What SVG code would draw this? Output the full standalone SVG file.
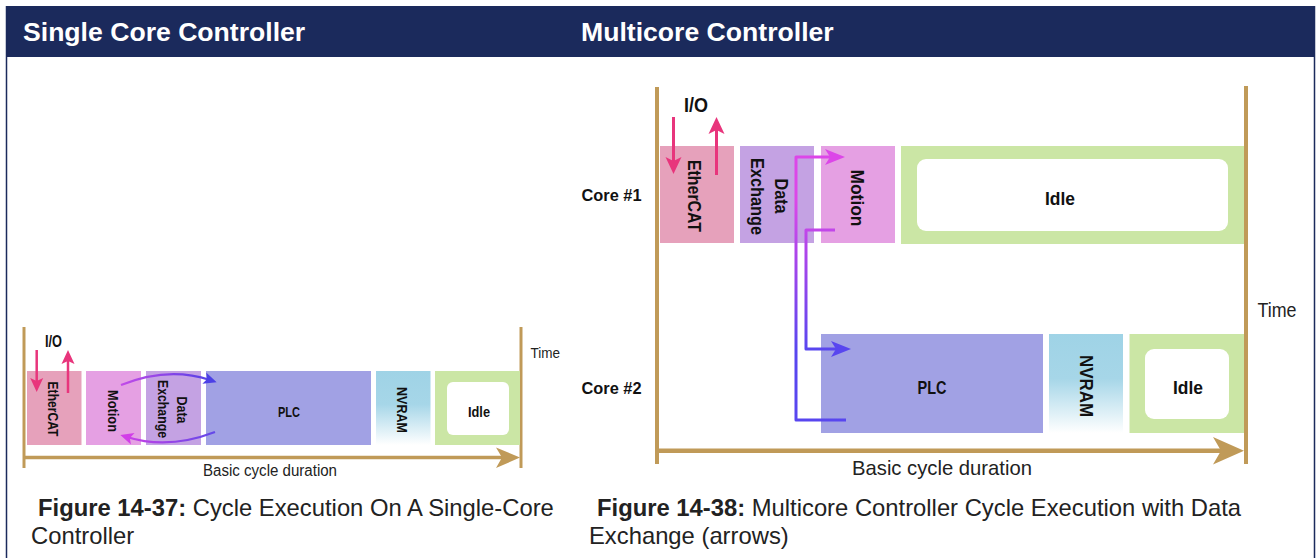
<svg xmlns="http://www.w3.org/2000/svg" width="1316" height="558" viewBox="0 0 1316 558">
<style>
.hdr{font-family:"Liberation Sans",Arial,sans-serif;font-weight:bold;font-size:26.6px;fill:#ffffff}
.cap{font-family:"Liberation Sans",Arial,sans-serif;font-size:23.8px;fill:#222222}
.capb{font-weight:bold}
.lbl{font-family:"Liberation Sans",Arial,sans-serif;font-weight:bold;fill:#111111;text-anchor:middle}
.s15{font-size:15.5px}
.s19{font-size:19px}
.ax{font-family:"Liberation Sans",Arial,sans-serif;fill:#222222}
.core{font-family:"Liberation Sans",Arial,sans-serif;font-weight:bold;font-size:17px;fill:#111111}
.axis{stroke:#c09a58;fill:none}
.axhead{fill:#c09a58}
.eth{fill:#e6a1bb}
.mot{fill:#e5a0e3}
.dex{fill:#c4a2e3}
.plc{fill:#a1a1e4}
.nvr{fill:url(#gNv)}
.idl{fill:#cbe6a5}
.win{fill:#ffffff}
.pink{stroke:#e8357c;fill:none}
</style>
<defs>
<linearGradient id="gNv" x1="0" y1="0" x2="0" y2="1">
<stop offset="0" stop-color="#9fd3e6"/>
<stop offset="0.45" stop-color="#a6d6e8"/>
<stop offset="1" stop-color="#ffffff"/>
</linearGradient>
<linearGradient id="gTop" gradientUnits="userSpaceOnUse" x1="121" y1="0" x2="216" y2="0">
<stop offset="0" stop-color="#c24ae8"/>
<stop offset="1" stop-color="#4c40e6"/>
</linearGradient>
<linearGradient id="gBot" gradientUnits="userSpaceOnUse" x1="215" y1="0" x2="121" y2="0">
<stop offset="0" stop-color="#6248e8"/>
<stop offset="1" stop-color="#d040e6"/>
</linearGradient>
<linearGradient id="gCon" gradientUnits="userSpaceOnUse" x1="0" y1="200" x2="0" y2="350">
<stop offset="0" stop-color="#dc46e8"/>
<stop offset="1" stop-color="#5846ef"/>
</linearGradient>
<marker id="mPinkS" markerUnits="userSpaceOnUse" markerWidth="16" markerHeight="14" viewBox="-15 -7 16 14" refX="-7" refY="0" orient="auto">
<path d="M0,0 L-14,-6.5 L-11,0 L-14,6.5 Z" fill="#e8357c"/>
</marker>
<marker id="mPinkL" markerUnits="userSpaceOnUse" markerWidth="19" markerHeight="18" viewBox="-18 -9 19 18" refX="-8" refY="0" orient="auto">
<path d="M0,0 L-17,-8 L-13,0 L-17,8 Z" fill="#e8357c"/>
</marker>
<marker id="mBlueS" markerUnits="userSpaceOnUse" markerWidth="16" markerHeight="14" viewBox="-15 -7 16 14" refX="-7" refY="0" orient="auto">
<path d="M0,0 L-13,-6 L-10,0 L-13,6 Z" fill="#4c40e6"/>
</marker>
<marker id="mMagS" markerUnits="userSpaceOnUse" markerWidth="16" markerHeight="14" viewBox="-15 -7 16 14" refX="-7" refY="0" orient="auto">
<path d="M0,0 L-13,-6 L-10,0 L-13,6 Z" fill="#d23ee8"/>
</marker>
<marker id="mMagL" markerUnits="userSpaceOnUse" markerWidth="22" markerHeight="18" viewBox="-21 -9 22 18" refX="-9" refY="0" orient="auto">
<path d="M0,0 L-20,-8 L-15,0 L-20,8 Z" fill="#dc46e8"/>
</marker>
<marker id="mBlueL" markerUnits="userSpaceOnUse" markerWidth="22" markerHeight="18" viewBox="-21 -9 22 18" refX="-9" refY="0" orient="auto">
<path d="M0,0 L-20,-8 L-15,0 L-20,8 Z" fill="#5846ef"/>
</marker>
</defs>

<!-- frame -->
<g id="frame">
<rect x="6" y="6" width="1309" height="51" fill="#1b2a5c"/>
<line x1="6.5" y1="6" x2="6.5" y2="558" stroke="#1b2a5c" stroke-width="1.5"/>
<line x1="1314.5" y1="6" x2="1314.5" y2="558" stroke="#1b2a5c" stroke-width="1.5"/>
<text class="hdr" x="23" y="41">Single Core Controller</text>
<text class="hdr" x="581" y="41">Multicore Controller</text>
</g>

<!-- ===== Single core diagram ===== -->
<g id="sc-axes">
<line class="axis" x1="24" y1="327" x2="24" y2="468" stroke-width="3"/>
<line class="axis" x1="521" y1="327" x2="521" y2="468" stroke-width="3"/>
<line class="axis" x1="24" y1="457.5" x2="505" y2="457.5" stroke-width="3.5"/>
<path class="axhead" d="M520,457.5 L496,447.5 L502,457.5 L496,468 Z"/>
<text class="ax" x="530.5" y="358" font-size="15" textLength="29.5" lengthAdjust="spacingAndGlyphs">Time</text>
<text class="ax" x="203" y="475.5" font-size="16" textLength="134" lengthAdjust="spacingAndGlyphs">Basic cycle duration</text>
</g>

<g id="sc-ethercat">
<rect class="eth" x="27" y="371" width="54.5" height="74"/>
<text class="lbl s15" transform="translate(53.5 409) rotate(90)" y="5.6" textLength="55" lengthAdjust="spacingAndGlyphs">EtherCAT</text>
</g>
<g id="sc-motion">
<rect class="mot" x="86" y="371" width="55" height="74"/>
<text class="lbl s15" transform="translate(114 411) rotate(90)" y="5.6" textLength="42" lengthAdjust="spacingAndGlyphs">Motion</text>
</g>
<g id="sc-dataexchange">
<rect class="dex" x="146" y="371" width="55" height="74"/>
<text class="lbl s15" transform="translate(183 410) rotate(90)" y="5.6" textLength="27" lengthAdjust="spacingAndGlyphs">Data</text>
<text class="lbl s15" transform="translate(163.5 409) rotate(90)" y="5.6" textLength="58" lengthAdjust="spacingAndGlyphs">Exchange</text>
</g>
<g id="sc-plc">
<rect class="plc" x="206" y="371" width="165" height="74"/>
<text class="lbl s15" x="289" y="417" textLength="22" lengthAdjust="spacingAndGlyphs">PLC</text>
</g>
<g id="sc-nvram">
<rect class="nvr" x="376" y="371" width="54.5" height="74"/>
<text class="lbl s15" transform="translate(402.5 410) rotate(90)" y="5.6" textLength="46" lengthAdjust="spacingAndGlyphs">NVRAM</text>
</g>
<g id="sc-idle">
<rect class="idl" x="435" y="371" width="85" height="74"/>
<rect class="win" x="447" y="382" width="62" height="53" rx="6"/>
<text class="lbl s15" x="479" y="417" textLength="22" lengthAdjust="spacingAndGlyphs">Idle</text>
</g>
<g id="sc-io">
<text class="lbl" x="53.5" y="346.5" font-size="16" textLength="17" lengthAdjust="spacingAndGlyphs">I/O</text>
</g>

<g id="sc-connectors">
<line class="pink" x1="36.7" y1="350" x2="36.7" y2="385" stroke-width="2.5" marker-end="url(#mPinkS)"/>
<line class="pink" x1="68" y1="393" x2="68" y2="357" stroke-width="2.5" marker-end="url(#mPinkS)"/>
<path d="M121,385 Q168,366 210,380" fill="none" stroke="url(#gTop)" stroke-width="2.2" marker-end="url(#mBlueS)"/>
<path d="M215,432 Q168,450 127,437" fill="none" stroke="url(#gBot)" stroke-width="2.2" marker-end="url(#mMagS)"/>
</g>

<!-- ===== Multicore diagram ===== -->
<g id="mc-axes">
<line class="axis" x1="657" y1="87" x2="657" y2="464" stroke-width="4"/>
<line class="axis" x1="1246" y1="86" x2="1246" y2="464" stroke-width="4"/>
<line class="axis" x1="657" y1="450.8" x2="1224" y2="450.8" stroke-width="4.5"/>
<path class="axhead" d="M1244,450.8 L1213,437 L1221,450.8 L1213,464.5 Z"/>
<text class="ax" x="1257.5" y="317" font-size="20" textLength="39" lengthAdjust="spacingAndGlyphs">Time</text>
<text class="ax" x="852" y="475" font-size="21" textLength="180" lengthAdjust="spacingAndGlyphs">Basic cycle duration</text>
<text class="core" x="581.5" y="200.5" textLength="60" lengthAdjust="spacingAndGlyphs">Core #1</text>
<text class="core" x="581.5" y="394" textLength="60" lengthAdjust="spacingAndGlyphs">Core #2</text>
</g>

<g id="mc-ethercat">
<rect class="eth" x="660" y="146" width="74" height="97"/>
<text class="lbl s19" transform="translate(695 196) rotate(90)" y="6.8" textLength="72" lengthAdjust="spacingAndGlyphs">EtherCAT</text>
</g>
<g id="mc-dataexchange">
<rect class="dex" x="740" y="146" width="74" height="97"/>
<text class="lbl s19" transform="translate(781.5 196) rotate(90)" y="6.8" textLength="35" lengthAdjust="spacingAndGlyphs">Data</text>
<text class="lbl s19" transform="translate(757.5 196.5) rotate(90)" y="6.8" textLength="77" lengthAdjust="spacingAndGlyphs">Exchange</text>
</g>
<g id="mc-motion">
<rect class="mot" x="821" y="146" width="74" height="97"/>
<text class="lbl s19" transform="translate(858 198) rotate(90)" y="6.8" textLength="57" lengthAdjust="spacingAndGlyphs">Motion</text>
</g>
<g id="mc-idle1">
<rect class="idl" x="901" y="146" width="343" height="98"/>
<rect class="win" x="917" y="159" width="311" height="72" rx="9"/>
<text class="lbl s19" x="1060" y="205" textLength="30" lengthAdjust="spacingAndGlyphs">Idle</text>
</g>
<g id="mc-io">
<text class="lbl" x="696" y="112" font-size="21" textLength="24" lengthAdjust="spacingAndGlyphs">I/O</text>
</g>
<g id="mc-plc">
<rect class="plc" x="821" y="334" width="222" height="99"/>
<text class="lbl s19" x="932" y="394" textLength="29" lengthAdjust="spacingAndGlyphs">PLC</text>
</g>
<g id="mc-nvram">
<rect class="nvr" x="1049" y="334" width="74" height="99"/>
<text class="lbl s19" transform="translate(1086.5 386) rotate(90)" y="6.8" textLength="62" lengthAdjust="spacingAndGlyphs">NVRAM</text>
</g>
<g id="mc-idle2">
<rect class="idl" x="1129.5" y="334" width="114.5" height="99"/>
<rect class="win" x="1145" y="349" width="84" height="70" rx="9"/>
<text class="lbl s19" x="1188" y="394" textLength="30" lengthAdjust="spacingAndGlyphs">Idle</text>
</g>

<g id="mc-connectors">
<line class="pink" x1="673.5" y1="117" x2="673.5" y2="166" stroke-width="3" marker-end="url(#mPinkL)"/>
<line class="pink" x1="716.5" y1="175" x2="716.5" y2="125" stroke-width="3" marker-end="url(#mPinkL)"/>
<path d="M846,420 H796 V157 H836" fill="none" stroke="url(#gCon)" stroke-width="3" stroke-linejoin="round" marker-end="url(#mMagL)"/>
<path d="M835,230 H806 V349 H842" fill="none" stroke="url(#gCon)" stroke-width="3" stroke-linejoin="round" marker-end="url(#mBlueL)"/>
</g>

<!-- captions -->
<g id="captions">
<text class="cap" x="38" y="516"><tspan class="capb">Figure 14-37:</tspan> Cycle Execution On A Single-Core</text>
<text class="cap" x="31" y="544">Controller</text>
<text class="cap" x="597" y="516"><tspan class="capb">Figure 14-38:</tspan> Multicore Controller Cycle Execution with Data</text>
<text class="cap" x="589" y="544">Exchange (arrows)</text>
</g>
</svg>
